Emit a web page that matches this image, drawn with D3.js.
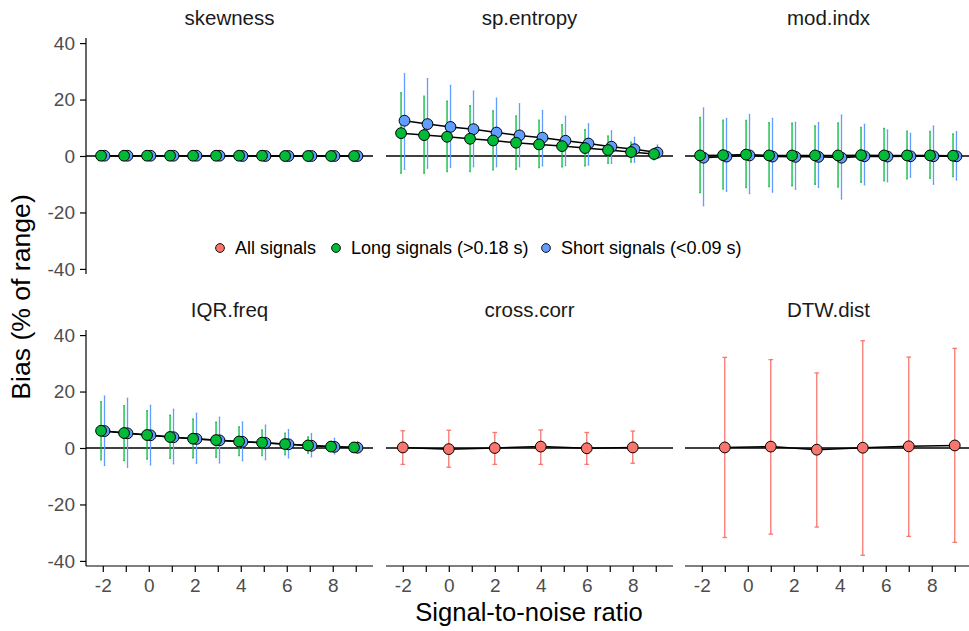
<!DOCTYPE html>
<html lang="en">
<head>
<meta charset="UTF-8">
<title>Bias by signal-to-noise ratio</title>
<script src="https://d3js.org/d3.v7.min.js"></script>
<style>
  body { margin: 0; background: #fff; font-family: "Liberation Sans", Arial, sans-serif; }
  .tick text { fill: #4d4d4d; font-size: 19px; }
  .strip { fill: #1a1a1a; font-size: 20.5px; }
</style>
</head>
<body>
<svg id="chart" width="969" height="631"></svg>
<script>
// ---- data ----
const panelNames = ["skewness", "sp.entropy", "mod.indx", "IQR.freq", "cross.corr", "DTW.dist"];
const snr = [-2, -1, 0, 1, 2, 3, 4, 5, 6, 7, 8, 9];
const snrCross = [-2, 0, 2, 4, 6, 8];
const snrDtw = [-1, 1, 3, 5, 7, 9];
const xTicks = [-2, -1, 0, 1, 2, 3, 4, 5, 6, 7, 8, 9];
const yTicks = [-40, -20, 0, 20, 40];

// skewness
const skewLongMean  = [0.1, 0.1, 0.1, 0.1, 0.1, 0.1, 0.1, 0.1, 0.0, 0.0, 0.0, 0.0];
const skewLongLo    = [-0.6, -0.5, -0.5, -0.4, -0.4, -0.4, -0.3, -0.3, -0.3, -0.3, -0.2, -0.2];
const skewLongHi    = [0.8, 0.7, 0.6, 0.6, 0.5, 0.5, 0.4, 0.4, 0.4, 0.3, 0.3, 0.3];
const skewShortMean = [0.1, 0.1, 0.1, 0.1, 0.1, 0.1, 0.0, 0.0, 0.0, 0.0, 0.0, 0.0];
const skewShortLo   = [-1.4, -0.8, -0.7, -0.6, -0.6, -0.5, -0.5, -0.4, -0.4, -0.3, -0.3, -0.3];
const skewShortHi   = [1.5, 0.9, 0.8, 0.7, 0.6, 0.6, 0.5, 0.5, 0.4, 0.4, 0.3, 0.3];

// sp.entropy
const entLongMean  = [8.1, 7.4, 6.8, 6.1, 5.5, 4.7, 4.1, 3.5, 2.8, 2.1, 1.4, 0.7];
const entLongLo    = [-6.1, -6.1, -5.5, -5.5, -4.9, -4.7, -4.1, -3.8, -3.5, -2.6, -2.2, -1.4];
const entLongHi    = [22.4, 21.2, 19.4, 17.8, 16.0, 14.2, 12.7, 11.1, 9.3, 7.1, 4.9, 2.4];
const entShortMean = [12.5, 11.3, 10.3, 9.5, 8.3, 7.3, 6.5, 5.4, 4.4, 3.3, 2.4, 1.2];
const entShortLo   = [-4.7, -4.3, -4.0, -3.8, -3.8, -3.8, -3.5, -3.4, -3.2, -2.6, -2.2, -0.8];
const entShortHi   = [29.2, 27.4, 25.0, 23.0, 20.5, 18.5, 16.1, 14.1, 11.4, 8.9, 6.6, 3.9];

// mod.indx
const modLongMean  = [0.2, 0.3, 0.5, 0.2, 0.2, 0.2, 0.2, 0.3, 0.2, 0.2, 0.2, 0.1];
const modLongLo    = [-13.0, -11.7, -11.2, -10.8, -10.6, -10.0, -11.0, -9.3, -8.8, -8.1, -7.9, -7.3];
const modLongHi    = [13.7, 12.7, 12.6, 11.8, 11.6, 10.7, 11.7, 10.1, 9.8, 8.8, 8.7, 7.8];
const modShortMean = [-0.6, -0.2, 0.2, -0.2, -0.3, -0.3, -0.6, -0.1, -0.2, -0.1, -0.1, -0.1];
const modShortLo   = [-17.6, -12.5, -13.3, -12.8, -11.8, -11.1, -15.2, -10.2, -9.1, -7.5, -10.0, -8.5];
const modShortHi   = [17.0, 13.3, 14.7, 13.3, 11.9, 11.8, 14.5, 11.2, 9.2, 8.0, 10.6, 8.6];

// IQR.freq
const iqrLongMean  = [6.1, 5.3, 4.6, 3.9, 3.3, 2.8, 2.3, 1.9, 1.4, 0.9, 0.5, 0.2];
const iqrLongLo    = [-4.2, -4.5, -3.9, -3.7, -3.5, -3.3, -2.7, -2.7, -2.4, -1.9, -0.9, -0.5];
const iqrLongHi    = [16.4, 15.0, 13.2, 11.6, 10.3, 9.2, 7.5, 6.4, 5.3, 3.9, 2.3, 0.8];
const iqrShortMean = [6.0, 5.2, 4.5, 3.8, 3.2, 2.7, 2.2, 1.8, 1.3, 0.8, 0.4, 0.1];
const iqrShortLo   = [-6.2, -6.8, -6.0, -5.6, -5.4, -5.3, -4.5, -4.1, -3.5, -3.1, -2.1, -1.8];
const iqrShortHi   = [18.4, 17.6, 15.1, 13.7, 12.3, 10.9, 9.2, 8.1, 6.5, 5.1, 3.4, 2.3];

// cross.corr (all signals)
const crossMean = [0.2, -0.4, 0.0, 0.5, -0.1, 0.2];
const crossLo   = [-5.8, -6.8, -5.8, -5.8, -5.8, -5.4];
const crossHi   = [6.1, 6.3, 5.5, 6.4, 5.5, 6.0];

// DTW.dist (all signals)
const dtwMean = [0.2, 0.5, -0.6, 0.1, 0.6, 0.9];
const dtwLo   = [-31.7, -30.5, -28.0, -38.0, -31.3, -33.4];
const dtwHi   = [32.1, 31.3, 26.6, 38.0, 32.2, 35.3];

const legendLabels = ["All signals", "Long signals (>0.18 s)", "Short signals (<0.09 s)"];
const colors = { all: "#F8766D", long: "#00BA38", short: "#619CFF" };

// ---- build series table ----
function series(key, xs, mean, lo, hi, dodge) {
  return xs.map((x, i) => ({ key, x: x + dodge, y: mean[i], lo: lo[i], hi: hi[i] }));
}
const dodge = 0.075;
const panels = [
  { name: panelNames[0], groups: [series("short", snr, skewShortMean, skewShortLo, skewShortHi, dodge),
                                  series("long", snr, skewLongMean, skewLongLo, skewLongHi, -dodge)] },
  { name: panelNames[1], groups: [series("short", snr, entShortMean, entShortLo, entShortHi, dodge),
                                  series("long", snr, entLongMean, entLongLo, entLongHi, -dodge)] },
  { name: panelNames[2], groups: [series("short", snr, modShortMean, modShortLo, modShortHi, dodge),
                                  series("long", snr, modLongMean, modLongLo, modLongHi, -dodge)] },
  { name: panelNames[3], groups: [series("short", snr, iqrShortMean, iqrShortLo, iqrShortHi, dodge),
                                  series("long", snr, iqrLongMean, iqrLongLo, iqrLongHi, -dodge)] },
  { name: panelNames[4], groups: [series("all", snrCross, crossMean, crossLo, crossHi, 0)] },
  { name: panelNames[5], groups: [series("all", snrDtw, dtwMean, dtwLo, dtwHi, 0)] }
];

// ---- layout ----
const svg = d3.select("#chart");
const colLeft = [86, 386, 685];
const rowTop = [38, 330];
const pw = 287, ph = 236;

const x = d3.scaleLinear().domain([-2.73, 9.75]).range([0, pw]);
const y = d3.scaleLinear().domain([-41.8, 41.8]).range([ph, 0]);

const line = d3.line().x(d => x(d.x)).y(d => y(d.y));
const hyphen = d => String(d).replace("\u2212", "-");

panels.forEach((p, i) => {
  const col = i % 3, row = Math.floor(i / 3);
  const g = svg.append("g").attr("transform", `translate(${colLeft[col]},${rowTop[row]})`);

  // strip title
  g.append("text").attr("class", "strip")
    .attr("x", pw / 2).attr("y", -13)
    .attr("text-anchor", "middle")
    .text(p.name);

  // zero reference line
  g.append("line")
    .attr("x1", 0).attr("x2", pw)
    .attr("y1", y(0)).attr("y2", y(0))
    .attr("stroke", "#000").attr("stroke-width", 1.3);

  // error bars
  p.groups.forEach(s => {
    const cap = s[0].key === "all" ? 0.1 : 0.03;
    const eb = g.append("g")
      .attr("stroke", colors[s[0].key])
      .attr("stroke-width", 1.3);
    eb.selectAll("line.v").data(s).join("line").attr("class", "v")
      .attr("x1", d => x(d.x)).attr("x2", d => x(d.x))
      .attr("y1", d => y(d.lo)).attr("y2", d => y(d.hi));
    eb.selectAll("line.t").data(s).join("line").attr("class", "t")
      .attr("x1", d => x(d.x - cap)).attr("x2", d => x(d.x + cap))
      .attr("y1", d => y(d.hi)).attr("y2", d => y(d.hi));
    eb.selectAll("line.b").data(s).join("line").attr("class", "b")
      .attr("x1", d => x(d.x - cap)).attr("x2", d => x(d.x + cap))
      .attr("y1", d => y(d.lo)).attr("y2", d => y(d.lo));
  });

  // connecting lines
  p.groups.forEach(s => {
    g.append("path").datum(s)
      .attr("d", line)
      .attr("fill", "none")
      .attr("stroke", "#000")
      .attr("stroke-width", 1.5);
  });

  // points
  p.groups.forEach(s => {
    g.selectAll(null).data(s).join("circle")
      .attr("cx", d => x(d.x)).attr("cy", d => y(d.y))
      .attr("r", 5.4)
      .attr("fill", colors[s[0].key])
      .attr("stroke", "#000")
      .attr("stroke-width", 1);
  });

  // y axis on first column
  if (col === 0) {
    const ay = g.append("g").attr("class", "ax-y")
      .call(d3.axisLeft(y).tickValues(yTicks).tickSize(6).tickPadding(5).tickFormat(hyphen));
    ay.select(".domain").attr("d", `M0,${ph}V0`).attr("stroke-width", 1.2);
    ay.selectAll(".tick line").attr("stroke-width", 1.2);
  }
  // x axis on bottom row
  if (row === 1) {
    const ax = g.append("g").attr("class", "ax-x").attr("transform", `translate(0,${ph})`)
      .call(d3.axisBottom(x).tickValues(xTicks).tickSize(6).tickPadding(7)
        .tickFormat(d => d % 2 === 0 ? hyphen(d) : ""));
    ax.select(".domain").attr("d", `M0,0H${pw}`).attr("stroke-width", 1.2);
    ax.selectAll(".tick line").attr("stroke-width", 1.2);
  }
});

// legend
const legendX = [220, 336, 546];
const legKeys = ["all", "long", "short"];
const leg = svg.append("g").attr("transform", "translate(0,248)");
legKeys.forEach((k, i) => {
  leg.append("circle").attr("cx", legendX[i]).attr("cy", 0).attr("r", 4.4)
    .attr("fill", colors[k]).attr("stroke", "#000").attr("stroke-width", 0.9);
  leg.append("text").attr("x", legendX[i] + 15).attr("y", 6.4)
    .attr("font-size", 18).attr("fill", "#000")
    .text(legendLabels[i]);
});

// axis titles
svg.append("text")
  .attr("transform", "translate(30,297) rotate(-90)")
  .attr("text-anchor", "middle")
  .attr("font-size", 26.6)
  .text("Bias (% of range)");
svg.append("text")
  .attr("x", 529).attr("y", 621)
  .attr("text-anchor", "middle")
  .attr("font-size", 25.6)
  .text("Signal-to-noise ratio");
</script>
</body>
</html>
